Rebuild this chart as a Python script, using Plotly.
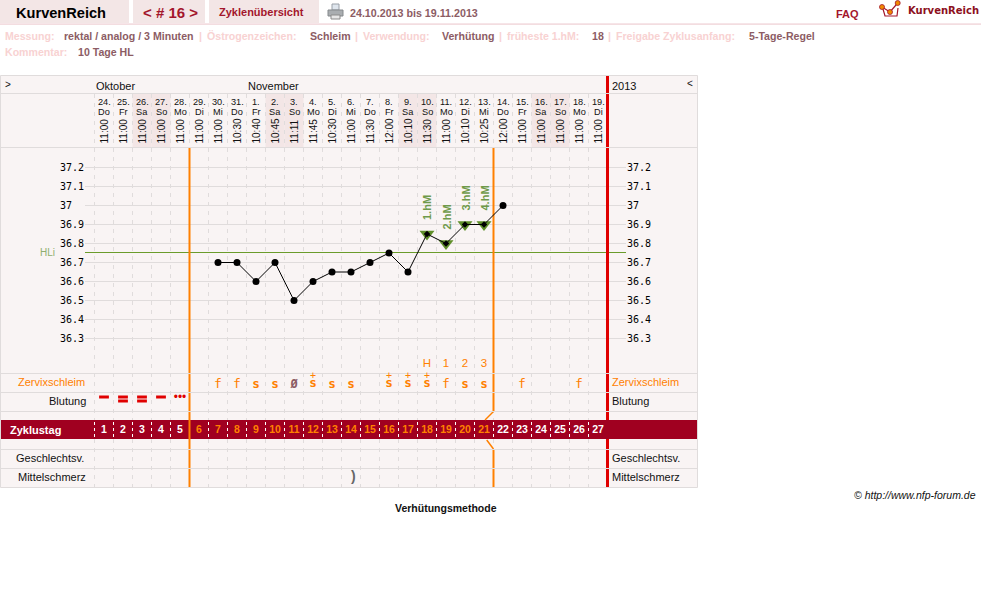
import plotly.graph_objects as go

# ---------- data ----------
days = list(range(1, 28))
date_labels = ["24.", "25.", "26.", "27.", "28.", "29.", "30.", "31.", "1.", "2.", "3.", "4.", "5.", "6.", "7.", "8.", "9.", "10.", "11.", "12.", "13.", "14.", "15.", "16.", "17.", "18.", "19."]
weekday_labels = ["Do", "Fr", "Sa", "So", "Mo", "Di", "Mi", "Do", "Fr", "Sa", "So", "Mo", "Di", "Mi", "Do", "Fr", "Sa", "So", "Mo", "Di", "Mi", "Do", "Fr", "Sa", "So", "Mo", "Di"]
time_labels = ["11:00", "11:00", "11:00", "11:00", "11:00", "11:00", "11:00", "10:30", "10:40", "10:45", "11:11", "11:45", "10:30", "11:00", "11:30", "12:00", "10:10", "11:30", "11:00", "10:10", "10:25", "12:00", "11:00", "11:00", "11:00", "11:00", "11:00"]
weekend_days = [3, 4, 10, 11, 17, 18, 24, 25]

temp_days = [7, 8, 9, 10, 11, 12, 13, 14, 15, 16, 17, 18, 19, 20, 21, 22]
temps = [36.7, 36.7, 36.6, 36.7, 36.5, 36.6, 36.65, 36.65, 36.7, 36.75, 36.65, 36.85, 36.8, 36.9, 36.9, 37.0]
hm_days = [18, 19, 20, 21]
hm_temps = [36.85, 36.8, 36.9, 36.9]
hm_labels = ["1.hM", "2.hM", "3.hM", "4.hM"]
hl_value = 36.7526
tick_vals = [37.2, 37.1, 37.0, 36.9, 36.8, 36.7, 36.6, 36.5, 36.4, 36.3]
tick_text = ["37.2", "37.1", "37", "36.9", "36.8", "36.7", "36.6", "36.5", "36.4", "36.3"]

mucus_f_days = [7, 8, 19, 23, 26]
mucus_s_days = [9, 10, 13, 14, 20, 21]
mucus_none_days = [11]
mucus_plus_days = [12, 16, 17, 18]
peak_days = [18, 19, 20, 21]
peak_labels = ["H", "1", "2", "3"]
bleed_single_days = [1, 2, 3, 4]
bleed_double_days = [2, 3]
bleed_spot_days = [5]
pain_days = [14]
cycle_day_orange = list(range(6, 22))

# ---------- scales ----------
W, H = 981, 607
X0, DX = 94.5, 19.0
PXT, TPX = 167.5, 190
ORANGE, RED, BAND = "#ff8000", "#e00000", "#a00020"
GRID, PANEL, GREEN, WEEK = "#e0dcdc", "#f9f4f4", "#6b9c2c", "#f3e6e6"
PINK, BROWN, MAROON = "#f8d2d2", "#8c5c64", "#a3162c"
SANS = "Liberation Sans"
MONO = "DejaVu Sans Mono"


def px2day(px):
    return 0.5 + (px - X0) / DX


shapes = []
annots = []


def rect(x0, y0, x1, y1, fill, xref="x2", line=None):
    shapes.append(dict(type="rect", xref=xref, yref="y2", x0=x0, x1=x1, y0=y0, y1=y1, fillcolor=fill,
                       line=dict(width=0) if line is None else line, layer="below"))


def seg(x0, y0, x1, y1, color, width=1, dash="solid", xref="x2", yref="y2"):
    shapes.append(dict(type="line", xref=xref, yref=yref, x0=x0, x1=x1, y0=y0, y1=y1,
                       line=dict(color=color, width=width, dash=dash), layer="below"))


def txt(x, y, s, size=11, color="#000", bold=False, anchor="left", family=SANS, xref="x2", angle=0, italic=False):
    if bold:
        s = f"<b>{s}</b>"
    if italic:
        s = f"<i>{s}</i>"
    annots.append(dict(x=x, y=y, xref=xref, yref="y2", text=s, showarrow=False, xanchor=anchor, yanchor="middle",
                       font=dict(size=size, color=color, family=family), textangle=angle, borderpad=0, borderwidth=0))


# ---------- top bars ----------
rect(0, 0, 129, 23, WEEK)
rect(133, 0, 205, 23, WEEK)
rect(209, 0, 319, 23, WEEK)
rect(0, 23.3, W, 25, "#f3dde0")
txt(16, 12.5, "KurvenReich", 14.6, "#000", True)
txt(143, 12.5, "&lt; # 16 &gt;", 15, MAROON, True)
txt(219, 12, "Zyklenübersicht", 11, MAROON, True)
txt(350, 12.5, "24.10.2013 bis 19.11.2013", 10.7, BROWN, True)
txt(836, 14, "FAQ", 11, MAROON, True)
txt(908, 10.5, "KurvenReich", 10, "#8c1020", True, family="DejaVu Sans")

# printer icon
rect(332, 4, 339, 10, "#dfe6ee", line=dict(color="#9aa0a8", width=1))
rect(328, 10, 343, 16, "#a9adb0", line=dict(color="#85898c", width=1))
rect(331, 15, 340, 19, "#e6e6e6", line=dict(color="#8a8a8a", width=1))

# logo
shapes.append(dict(type="path", xref="x2", yref="y2", layer="below", line=dict(color="#a3162c", width=1.2),
                   path="M 883 9 L 885 16 L 897 16 L 898 8"))
shapes.append(dict(type="path", xref="x2", yref="y2", layer="below", line=dict(color="#a3162c", width=1.2),
                   path="M 882 7 L 890 12 L 897.7 3"))
for cx, cy in ((882, 7), (890, 12), (897.7, 3)):
    shapes.append(dict(type="circle", xref="x2", yref="y2", layer="below", x0=cx - 2.5, x1=cx + 2.5, y0=cy - 2.5,
                       y1=cy + 2.5, fillcolor="#f08a00", line=dict(color="#a3162c", width=0.8)))

# info lines
for x, s in ((5, "Messung:"), (207, "Östrogenzeichen:"), (363, "Verwendung:"), (507, "früheste 1.hM:"),
             (616, "Freigabe Zyklusanfang:")):
    txt(x, 36, s, 10.6, PINK, True)
for x in (199, 355, 499, 608):
    txt(x, 36, "|", 10.6, PINK, True)
txt(5, 51.5, "Kommentar:", 10.6, PINK, True)
for x, s in ((64, "rektal / analog / 3 Minuten"), (310, "Schleim"), (442, "Verhütung"), (592, "18"),
             (749, "5-Tage-Regel")):
    txt(x, 36, s, 10.6, BROWN, True)
txt(78, 51.5, "10 Tage HL", 10.6, BROWN, True)

# ---------- panel ----------
rect(0.5, 75.5, 697.5, 487.5, PANEL)
for d in weekend_days:
    rect(d - 0.5, 94, d + 0.5, 147.5, WEEK, xref="x")
rect(0.5, 420, 697.5, 439, BAND)

for k in range(0, 27):
    seg(k + 0.5, 94, k + 0.5, 420, GRID, 1, "4px,5px", xref="x")
    seg(k + 0.5, 439, k + 0.5, 487, GRID, 1, "4px,5px", xref="x")
    seg(k + 0.5, 422, k + 0.5, 437, "#ffffff", 1, "3px,3px", xref="x")

for t in tick_vals:
    seg(px2day(85), t, px2day(626), t, GRID, 1, xref="x", yref="y")
seg(px2day(85), hl_value, px2day(626), hl_value, GREEN, 1, xref="x", yref="y")

# cycle phase boundaries
seg(5.5, 148, 5.5, 487, ORANGE, 2, xref="x")
seg(21.5, 148, 21.5, 411.5, ORANGE, 2, xref="x")
seg(21.5, 411.5, px2day(485), 420, ORANGE, 1.5, xref="x")
seg(px2day(486.7), 440, 21.5, 449, ORANGE, 1.5, xref="x")
seg(21.5, 449, 21.5, 487, ORANGE, 2, xref="x")
seg(27.5, 75.5, 27.5, 420, RED, 3, xref="x")
seg(27.5, 439, 27.5, 487.5, RED, 3, xref="x")

for y in (93.5, 147.5, 373.5, 392.5, 411.5, 449.5, 468.5):
    seg(0.5, y, 697.5, y, GRID, 1)
seg(0.5, 75.5, 697.5, 75.5, GRID, 1)
seg(0.5, 487.5, 697.5, 487.5, GRID, 1)
seg(0.5, 75.5, 0.5, 487.5, GRID, 1)
seg(697.5, 75.5, 697.5, 487.5, GRID, 1)

# header text
txt(5, 84, "&gt;", 10, "#111")
txt(96, 85.5, "Oktober", 11, "#111")
txt(248, 85.5, "November", 11, "#111")
txt(612, 85.5, "2013", 11, "#111")
txt(687, 83, "&lt;", 10, "#111")

for d, dl, wl, tl in zip(days, date_labels, weekday_labels, time_labels):
    txt(d, 101.5, dl, 9.2, "#111", anchor="center", xref="x")
    txt(d, 112, wl, 9.2, "#111", anchor="center", xref="x")
    txt(d, 131.5, tl, 10, "#111", anchor="center", xref="x", angle=-90)

# row labels
txt(85, 382, "Zervixschleim", 11, ORANGE, anchor="right")
txt(86, 401, "Blutung", 11, "#111", anchor="right")
txt(84, 458, "Geschlechtsv.", 11, "#111", anchor="right")
txt(86, 477, "Mittelschmerz", 11, "#111", anchor="right")
txt(612, 382, "Zervixschleim", 11, ORANGE)
txt(612, 401, "Blutung", 11, "#111")
txt(612, 458, "Geschlechtsv.", 11, "#111")
txt(612, 477, "Mittelschmerz", 11, "#111")
txt(10, 430, "Zyklustag", 11, "#ffffff", True)
txt(40, 252, "HLi", 10, "#8fae6e")

txt(446, 508, "Verhütungsmethode", 10.5, "#111", True, anchor="center")
txt(976, 495, "© http://www.nfp-forum.de", 10.5, "#111", anchor="right", italic=True)

for d, s in zip(hm_days, hm_labels):
    annots.append(dict(x=d, y=hm_temps[hm_days.index(d)], xref="x", yref="y", yshift=26, text=f"<b>{s}</b>", textangle=-90,
                       showarrow=False, xanchor="center", yanchor="middle",
                       font=dict(size=11, color="#6f9a4a", family=SANS)))

# ---------- traces ----------
fig = go.Figure()
fig.add_trace(go.Scatter(x=[None], y=[None], xaxis="x", yaxis="y3", mode="none", showlegend=False))
fig.add_trace(go.Scatter(x=hm_days, y=hm_temps, mode="markers", showlegend=False,
                         marker=dict(symbol="triangle-down", size=13, color="#5f8f2a")))
fig.add_trace(go.Scatter(x=temp_days, y=temps, mode="lines", showlegend=False, line=dict(color="#000", width=1)))
fig.add_trace(go.Scatter(x=[d for d in temp_days if d not in hm_days], y=[t for d, t in zip(temp_days, temps) if d not in hm_days],
                         mode="markers", showlegend=False, marker=dict(size=7, color="#000")))
fig.add_trace(go.Scatter(x=hm_days, y=hm_temps, mode="markers", showlegend=False,
                         marker=dict(size=5, symbol="diamond", color="#000")))

row_y = {"peak": 364, "mucus": 385, "mucusplus": 381.5, "bleed": 397, "bleed2": 401, "spot": 398, "pain": 477, "band": 430}


def row(name, n):
    return [row_y[name]] * n


def text_trace(x, name, labels, size, color, family=SANS, pos="middle center"):
    fig.add_trace(go.Scatter(x=x, y=row(name, len(x)), yaxis="y2", mode="text", text=labels, showlegend=False,
                             textposition=pos, textfont=dict(size=size, color=color, family=family)))


PLUS_S = '<span style="font-size:10px">+</span><br><b><span style="font-size:12.5px">s</span></b>'
text_trace(peak_days, "peak", peak_labels, 11.5, ORANGE)
text_trace(mucus_f_days, "mucus", ["f"] * len(mucus_f_days), 13, ORANGE, MONO)
text_trace(mucus_s_days, "mucus", ["<b>s</b>"] * len(mucus_s_days), 12.5, ORANGE, MONO)
text_trace(mucus_none_days, "mucus", ["<b>Ø</b>"], 12, BROWN, MONO)
text_trace(mucus_plus_days, "mucusplus", [PLUS_S] * len(mucus_plus_days), 6, ORANGE, MONO)
text_trace(bleed_spot_days, "spot", ["•••"], 12, RED)
text_trace(pain_days, "pain", ["<b>)</b>"], 14, "#666666", pos="middle right")
fig.add_trace(go.Scatter(x=bleed_single_days, y=row("bleed", 4), yaxis="y2", mode="markers", showlegend=False,
                         marker=dict(symbol="line-ew", size=7, line=dict(color=RED, width=3))))
fig.add_trace(go.Scatter(x=bleed_double_days, y=row("bleed2", 2), yaxis="y2", mode="markers", showlegend=False,
                         marker=dict(symbol="line-ew", size=7, line=dict(color=RED, width=3))))
fig.add_trace(go.Scatter(x=days, y=row("band", 27), yaxis="y2", mode="text", showlegend=False,
                         text=[f"<b>{d}</b>" for d in days], textposition="middle center",
                         textfont=dict(size=10.5, family=SANS,
                                       color=[ORANGE if d in cycle_day_orange else "#ffffff" for d in days])))

fig.update_layout(
    width=W, height=H, margin=dict(l=0, r=0, t=0, b=0), autosize=False,
    paper_bgcolor="#ffffff", plot_bgcolor="#ffffff", hovermode=False, showlegend=False,
    xaxis=dict(domain=[0, 1], range=[px2day(0), px2day(W)], visible=False, fixedrange=True),
    xaxis2=dict(domain=[0, 1], range=[0, W], visible=False, overlaying="x", fixedrange=True),
    yaxis=dict(domain=[0, 1], range=[37.2 - (H - PXT) / TPX, 37.2 + PXT / TPX], anchor="free", position=84 / W,
               tickmode="array", tickvals=tick_vals, ticktext=[s if len(s) > 2 else s + "\u00a0\u00a0" for s in tick_text],
               ticks="", showgrid=False, zeroline=False, showline=False, fixedrange=True,
               tickfont=dict(size=10, family=MONO, color="#000")),
    yaxis2=dict(domain=[0, 1], range=[H, 0], visible=False, overlaying="y", fixedrange=True),
    yaxis3=dict(domain=[0, 1], range=[37.2 - (H - PXT) / TPX, 37.2 + PXT / TPX], anchor="free", position=626 / W,
                side="right", overlaying="y", tickmode="array", tickvals=tick_vals, ticktext=tick_text,
                ticks="", showgrid=False, zeroline=False, showline=False, fixedrange=True,
                tickfont=dict(size=10, family=MONO, color="#000")),
    shapes=shapes, annotations=annots,
)

fig.write_html("out.html", config=dict(displayModeBar=False),
               post_script="document.documentElement.style.margin='0';document.body.style.margin='0';document.body.style.overflow='hidden';")
